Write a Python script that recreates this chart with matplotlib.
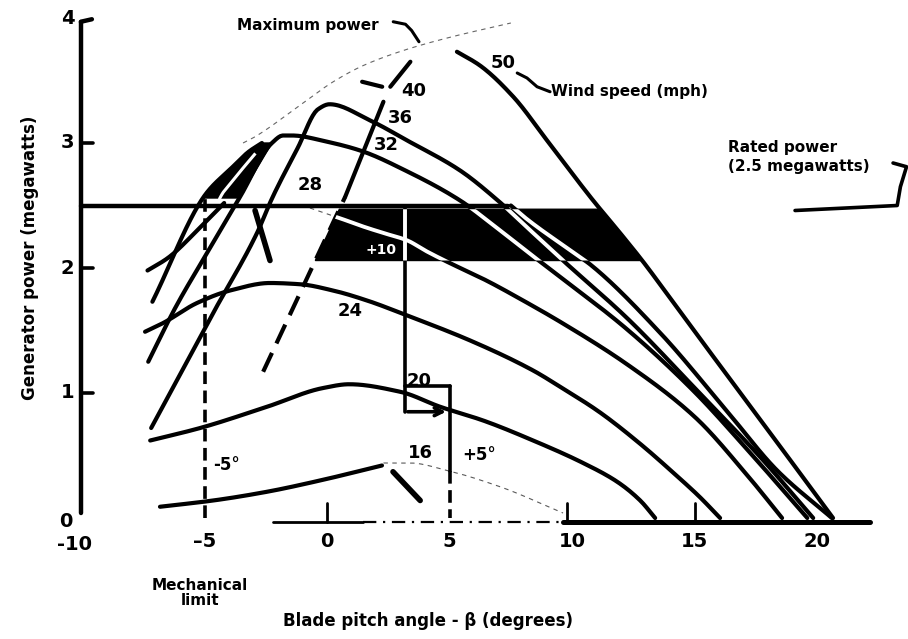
import numpy as np
import matplotlib
matplotlib.use("Agg")
import matplotlib.pyplot as plt
from matplotlib.patches import Polygon

plt.rcParams['font.family'] = ['DejaVu Sans']
plt.rcParams['font.weight'] = 'bold'

# ---------------- data ----------------
# wind-speed curves: generator power (MW) vs blade pitch angle (deg)
c16_x = [-6.82, -4.65, -2.45, -0.29, 2.24]
c16_y = [0.09, 0.14, 0.21, 0.30, 0.42]
c16_tail_x = [2.3, 3.39, 4.9, 7.06, 9.63]
c16_tail_y = [0.44, 0.44, 0.38, 0.25, 0.04]
c16_seg_x = [2.69, 3.8]
c16_seg_y = [0.37, 0.14]

c20_x = [-7.22, -5.18, -2.45, -0.16, 0.9, 2.98, 4.61, 6.37, 8.41, 10.45, 11.84, 12.78, 13.39]
c20_y = [0.62, 0.72, 0.89, 1.04, 1.07, 1.01, 0.89, 0.78, 0.62, 0.44, 0.29, 0.14, 0.0]

c24_x = [-7.43, -6.69, -5.31, -3.96, -2.33, -1.1, 0.24, 1.63, 3.27, 5.84, 8.41, 9.51, 11.1, 12.8, 14.2, 15.2, 16.04]
c24_y = [1.49, 1.56, 1.72, 1.82, 1.88, 1.87, 1.82, 1.74, 1.62, 1.42, 1.18, 1.05, 0.85, 0.59, 0.35, 0.17, 0.0]

c28_top_x = [-0.7, 0.5, 1.5, 2.3]
c28_top_y = [2.48, 2.40, 2.33, 2.28]
c28_x = [2.3, 3.28, 4.0, 4.9, 6.5, 8.0, 9.51, 12.24, 15.0, 17.2, 18.57]
c28_y = [2.28, 2.22, 2.14, 2.05, 1.9, 1.74, 1.57, 1.23, 0.81, 0.33, 0.0]

c32_x = [-7.3, -6.2, -4.9, -3.55, -2.25, -1.8, -1.43, 0.0, 1.35, 3.3, 5.43, 7.0, 8.57, 9.51, 12.24, 14.94, 17.14, 19.6]
c32_y = [1.25, 1.68, 2.12, 2.57, 3.0, 3.06, 3.06, 3.01, 2.94, 2.77, 2.54, 2.31, 2.07, 1.93, 1.51, 1.02, 0.55, 0.0]

c36_x = [-7.18, -4.65, -2.86, -2.24, -1.2, -0.37, 0.1, 1.76, 3.27, 5.43, 6.97, 8.3, 9.63, 12.24, 15.2, 17.67, 19.84]
c36_y = [0.72, 1.64, 2.28, 2.56, 2.96, 3.27, 3.31, 3.18, 3.02, 2.78, 2.54, 2.3, 2.06, 1.6, 1.0, 0.49, 0.0]

c40_rise_x = [-2.61, 0.74]
c40_rise_y = [1.17, 2.57]
c40_up_x = [0.74, 2.3]
c40_up_y = [2.57, 3.33]
c40_top_x = [2.58, 3.4]
c40_top_y = [3.45, 3.65]
c40_x = [7.5, 8.1, 10.45, 10.73, 13.6, 16.3, 18.37, 20.6]
c40_y = [2.5, 2.4, 2.07, 2.03, 1.48, 0.86, 0.38, 0.0]

c50_x = [5.3, 6.24, 7.6, 8.98, 10.86, 12.0, 12.9, 14.0, 15.2, 16.3, 18.5, 20.65]
c50_y = [3.73, 3.62, 3.37, 3.02, 2.54, 2.27, 2.05, 1.76, 1.44, 1.15, 0.57, 0.0]

# other rising lines at the left
r1_x = [-7.33, -6.5, -5.3, -4.2]
r1_y = [1.98, 2.08, 2.30, 2.52]
r2_x = [-7.13, -4.92, -3.9, -3.2, -2.66]
r2_y = [1.73, 2.60, 2.80, 2.93, 3.00]
stall_x = [-2.94, -2.33]
stall_y = [2.46, 2.06]
dash_f_x = [1.43, 2.25]
dash_f_y = [3.49, 3.45]

# maximum power locus
maxp_x = [-3.43, -3.03, -0.98, 0.25, 1.48, 3.11, 4.9, 7.5]
maxp_y = [3.0, 3.04, 3.32, 3.49, 3.62, 3.74, 3.84, 3.96]

# levels
rated_power = 2.5
band_low, band_high = 2.06, 2.47
mech_limit = -4.98
ctrl_x = 3.18
plus5_x = 5.02
box_low, box_high = 0.85, 1.06

xticks = [-5, 0, 5, 10, 15, 20]
xtick_labels = ['\u20135', '0', '5', '10', '15', '20']
yticks = [1, 2, 3, 4]


def pchip(x, y, n=300):
    """Shape-preserving smooth drawing path through the given points."""
    x = np.asarray(x, float); y = np.asarray(y, float)
    if len(x) < 3:
        return x, y
    h = np.diff(x); d = np.diff(y) / h
    m = np.zeros_like(x)
    for k in range(1, len(x) - 1):
        if d[k - 1] * d[k] > 0:
            w1 = 2 * h[k] + h[k - 1]; w2 = h[k] + 2 * h[k - 1]
            m[k] = (w1 + w2) / (w1 / d[k - 1] + w2 / d[k])
    m[0] = d[0]; m[-1] = d[-1]
    xs = np.linspace(x[0], x[-1], n)
    i = np.clip(np.searchsorted(x, xs) - 1, 0, len(x) - 2)
    t = (xs - x[i]) / h[i]
    h00 = 2 * t**3 - 3 * t**2 + 1; h10 = t**3 - 2 * t**2 + t
    h01 = -2 * t**3 + 3 * t**2; h11 = t**3 - t**2
    ys = h00 * y[i] + h10 * h[i] * m[i] + h01 * y[i + 1] + h11 * h[i] * m[i + 1]
    return xs, ys


# ---------------- figure ----------------
fig = plt.figure(figsize=(9.08, 6.39), dpi=100)
ax = fig.add_axes([0, 0, 1, 1])
ax.set_xlim(-13.35, 23.71)
ax.set_ylim(-0.968, 4.144)
ax.axis('off')

K = 'black'
LW = 3.0


def line(x, y, smooth=False, **kw):
    d = dict(color=K, lw=LW, solid_capstyle='round', zorder=2)
    d.update(kw)
    if smooth:
        x, y = pchip(x, y)
    return ax.plot(x, y, **d)[0]


# curves
line(c16_x, c16_y, smooth=True)
line(c16_tail_x, c16_tail_y, smooth=True, lw=0.8, ls=(0, (4, 4)), color='0.35')
line(c16_seg_x, c16_seg_y, lw=4)
line(c20_x, c20_y, smooth=True)
line(c24_x, c24_y, smooth=True)
line(c28_top_x, c28_top_y, smooth=True, lw=0.8, ls=(0, (4, 4)), color='0.35')
line(c28_x, c28_y, smooth=True)
line(c32_x, c32_y, smooth=True)
line(c36_x, c36_y, smooth=True)
line(c40_rise_x, c40_rise_y, ls=(0, (5, 2.5)), dash_capstyle='butt')
line(c40_up_x, c40_up_y)
line(c40_top_x, c40_top_y)
line(c40_x, c40_y, smooth=True)
line(c50_x, c50_y, smooth=True)
line(r1_x, r1_y, smooth=True)
line(r2_x, r2_y, smooth=True)
line(stall_x, stall_y, lw=4)
line(dash_f_x, dash_f_y)
line(maxp_x, maxp_y, smooth=True, lw=0.8, ls=(0, (4, 4)), color='0.4')

# black crescent between two rising lines above rated power
yy = np.linspace(2.56, 3.0, 20)
left_edge = np.interp(yy, r2_y, r2_x)
right_edge = np.interp(yy, c32_y[:5], c32_x[:5])
cres = Polygon(np.column_stack([np.r_[left_edge, right_edge[::-1]], np.r_[yy, yy[::-1]]]),
               closed=True, facecolor=K, edgecolor=K, zorder=3)
ax.add_patch(cres)
mid = 0.55 * left_edge + 0.45 * right_edge
ax.plot(mid[:-4], yy[:-4], color='white', lw=2.2, zorder=4)

# black band between 2.06 and 2.47 MW
yb = np.linspace(band_low, band_high, 20)
band_left = np.interp(yb, c40_rise_y, c40_rise_x)
s50x, s50y = pchip(c50_x, c50_y)
band_right = np.interp(yb, s50y[::-1], s50x[::-1])
band = Polygon(np.column_stack([np.r_[band_left, band_right[::-1]], np.r_[yb, yb[::-1]]]),
               closed=True, facecolor=K, edgecolor=K, zorder=3)
ax.add_patch(band)
for cx, cy in [(c28_top_x + c28_x[1:], c28_top_y + c28_y[1:]), (c32_x, c32_y), (c36_x, c36_y), (c40_x, c40_y)]:
    ln = line(cx, cy, smooth=True, color='white', lw=2.8, zorder=4)
    ln.set_clip_path(band)
ln = line([ctrl_x, ctrl_x], [rated_power, box_low], color='white', lw=2.8, zorder=4)
ln.set_clip_path(band)
ax.text(2.2, 2.14, '+10', color='white', fontsize=10, ha='center', va='center', zorder=5)

# rated power line
line([-10.05, 7.4], [rated_power, rated_power], lw=3.2, zorder=2)

# mechanical limit (dashed) and +5 line
line([mech_limit, mech_limit], [0.0, 2.55], ls=(0, (3.5, 1.8)), dash_capstyle='butt', lw=2.6)
line([plus5_x, plus5_x], [box_high, 0.38], lw=2.6)
line([plus5_x, plus5_x], [0.38, 0.0], ls=(0, (3.5, 1.8)), dash_capstyle='butt', lw=2.6)

# control path / box
line([ctrl_x, ctrl_x], [rated_power, box_low], lw=2.6)
line([ctrl_x, plus5_x], [box_high, box_high], lw=2.6)
ax.annotate('', xy=(plus5_x - 0.05, box_low), xytext=(ctrl_x, box_low),
            arrowprops=dict(arrowstyle='->', lw=2.6, color=K, mutation_scale=14), zorder=2)

# axes drawn by hand
line([-10.05, -10.05], [0.04, 3.97], lw=3.2)
line([-10.05, -9.6], [3.97, 3.99], lw=3.2)
for t in yticks[:-1]:
    line([-10.05, -9.55], [t, t], lw=2.6)
line([-2.2, 1.47], [-0.03, -0.03], lw=2.0)
line([1.47, 9.63], [-0.03, -0.03], lw=1.6, ls=(0, (6, 3, 1, 3)))
line([9.63, 22.16], [-0.03, -0.03], lw=3.6)
for t in [0, 9.8, 15.0]:
    line([t, t], [-0.03, 0.12], lw=2.0)

# tick labels
for t, s in zip(xticks, xtick_labels):
    ax.text(t, -0.19, s, fontsize=14, fontweight='bold', ha='center', va='center')
ax.text(-10.3, -0.21, '-10', fontsize=14, fontweight='bold', ha='center', va='center')
for t in yticks:
    ax.text(-10.6, t, str(t), fontsize=14, fontweight='bold', ha='center', va='center')
ax.text(-10.65, -0.03, '0', fontsize=14, fontweight='bold', ha='center', va='center')

# axis labels
ax.text(4.1, -0.82, 'Blade pitch angle - \u03b2 (degrees)', fontsize=12, fontweight='bold',
        ha='center', va='center')
ax.text(-12.12, 2.08, 'Generator power (megawatts)', fontsize=12, fontweight='bold',
        ha='center', va='center', rotation=90)
ax.text(-5.2, -0.6, 'Mechanical\nlimit', fontsize=11, fontweight='bold', ha='center', va='center',
        linespacing=0.95)

# curve labels
for s, x, y in [('50', 7.2, 3.64), ('40', 3.55, 3.42), ('36', 3.0, 3.2), ('32', 2.4, 2.98),
                ('28', -0.7, 2.66), ('24', 0.95, 1.66), ('20', 3.75, 1.1), ('16', 3.8, 0.52)]:
    ax.text(x, y, s, fontsize=13, fontweight='bold', ha='center', va='center')
ax.text(-4.65, 0.42, '-5\u00b0', fontsize=12, fontweight='bold', ha='left', va='center')
ax.text(5.5, 0.5, '+5\u00b0', fontsize=12, fontweight='bold', ha='left', va='center')

# annotations
ax.text(-0.78, 3.94, 'Maximum power', fontsize=11, fontweight='bold', ha='center', va='center')
line([2.7, 3.2, 3.45, 3.75], [3.97, 3.95, 3.9, 3.81], lw=2.2)
ax.text(9.15, 3.41, 'Wind speed (mph)', fontsize=11, fontweight='bold', ha='left', va='center')
line([7.76, 8.16, 8.57, 9.1], [3.56, 3.52, 3.45, 3.41], lw=2.2)
ax.text(16.37, 2.89, 'Rated power\n(2.5 megawatts)', fontsize=11, fontweight='bold',
        ha='left', va='center', linespacing=1.3)
line([23.1, 23.65, 23.4, 23.27, 19.1], [2.84, 2.81, 2.65, 2.5, 2.46], lw=2.6)

fig.savefig('out.png', dpi=100)
